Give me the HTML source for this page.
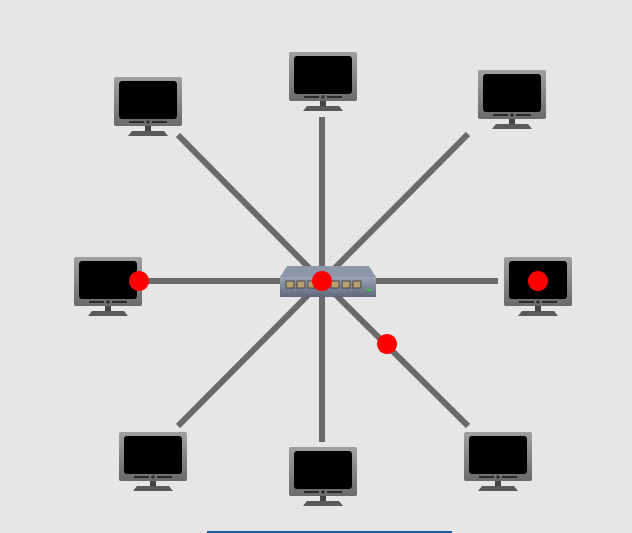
<!DOCTYPE html>
<html><head><style>html,body{margin:0;padding:0;background:#e6e6e6;width:632px;height:533px;overflow:hidden}</style></head>
<body>
<svg width="632" height="533" viewBox="0 0 632 533" xmlns="http://www.w3.org/2000/svg">
<defs>
<linearGradient id="fr" x1="0" y1="0" x2="0" y2="1"><stop offset="0" stop-color="#a0a0a0"/><stop offset="1" stop-color="#6a6a6a"/></linearGradient>
<linearGradient id="sw" x1="0" y1="0" x2="0" y2="1"><stop offset="0" stop-color="#9aa4b4"/><stop offset="1" stop-color="#5e6878"/></linearGradient>
<g id="mon">
<rect x="0" y="0" width="68" height="49" rx="2" fill="url(#fr)"/>
<rect x="5" y="4" width="58" height="38" rx="3" fill="#000"/>
<g fill="#2a2a2a"><rect x="15" y="44" width="15" height="2"/><rect x="38" y="44" width="15" height="2"/><circle cx="34" cy="45" r="1.6"/></g>
<rect x="31" y="49" width="6" height="5" fill="#444"/>
<path d="M18 54 H50 L54 59 H14 Z" fill="#5a5a5a"/>
</g>
</defs>
<g stroke="#6a6a6a" stroke-width="6">
<line x1="322" y1="281" x2="178" y2="135"/>
<line x1="322" y1="281" x2="322" y2="117"/>
<line x1="322" y1="281" x2="468" y2="134"/>
<line x1="322" y1="281" x2="146" y2="281"/>
<line x1="322" y1="281" x2="498" y2="281"/>
<line x1="322" y1="281" x2="178" y2="426"/>
<line x1="322" y1="281" x2="322" y2="442"/>
<line x1="322" y1="281" x2="468" y2="426"/>
</g>
<use href="#mon" x="114" y="77"/>
<use href="#mon" x="289" y="52"/>
<use href="#mon" x="478" y="70"/>
<use href="#mon" x="74" y="257"/>
<use href="#mon" x="504" y="257"/>
<use href="#mon" x="119" y="432"/>
<use href="#mon" x="289" y="447"/>
<use href="#mon" x="464" y="432"/>
<path d="M287 266 H369 L376 277 H280 Z" fill="#8d97a8"/>
<rect x="280" y="277" width="96" height="20" fill="url(#sw)"/>
<g fill="#b8a070" stroke="#333" stroke-width="0.8">
<rect x="286" y="281" width="8" height="7"/><rect x="297" y="281" width="8" height="7"/><rect x="308" y="281" width="8" height="7"/><rect x="319" y="281" width="8" height="7"/><rect x="331" y="281" width="8" height="7"/><rect x="342" y="281" width="8" height="7"/><rect x="353" y="281" width="8" height="7"/>
</g>
<rect x="367" y="289" width="4" height="2" fill="#3c3"/>
<g fill="#ff0000">
<circle cx="139" cy="281" r="10"/>
<circle cx="322" cy="281" r="10"/>
<circle cx="538" cy="281" r="10"/>
<circle cx="387" cy="344" r="10"/>
</g>
<rect x="207" y="531" width="245" height="2" fill="#1a5fa8"/>
</svg>
</body></html>
